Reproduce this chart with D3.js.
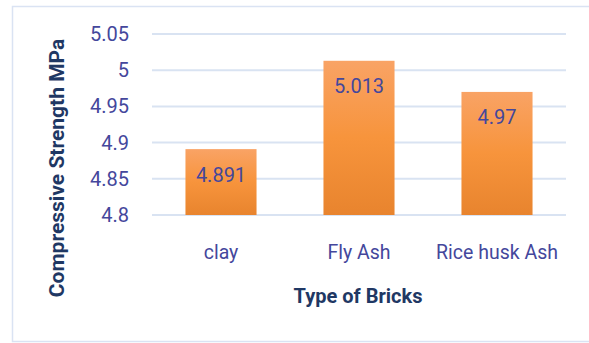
<!DOCTYPE html>
<html>
<head>
<meta charset="utf-8">
<script src="https://cdn.jsdelivr.net/npm/d3@7"></script>
<style>
    body { margin: 0; background: #fff; }
    svg { display: block; }
    .axis text { font-family: Roboto, sans-serif; fill: #44479c; }
    .axis-title { font-family: Roboto, sans-serif; font-weight: bold; fill: #1f3864; }
</style>
</head>
<body>
<div id="chart"></div>
<script>
// chart data
let categories = ["clay", "Fly Ash", "Rice husk Ash"];
let strength = [4.891, 5.013, 4.97];
let yTicks = [4.8, 4.85, 4.9, 4.95, 5, 5.05];

let margin = { top: 34, right: 23, bottom: 128, left: 152 };
let fullWidth = 589, fullHeight = 343;
let width = fullWidth - margin.left - margin.right;
let height = fullHeight - margin.top - margin.bottom;

let svg = d3.select("#chart").append("svg")
    .attr("width", fullWidth)
    .attr("height", fullHeight);

// outer frame (right edge runs off the picture)
svg.append("rect")
    .attr("x", 12.5)
    .attr("y", 6.5)
    .attr("width", 600)
    .attr("height", 335)
    .attr("fill", "none")
    .attr("stroke", "#dae3f3")
    .attr("stroke-width", 1.5);

let defs = svg.append("defs");
let grad = defs.append("linearGradient")
    .attr("id", "barGrad")
    .attr("x1", 0).attr("y1", 0).attr("x2", 0).attr("y2", 1);
grad.append("stop").attr("offset", "0%").attr("stop-color", "#f9a365");
grad.append("stop").attr("offset", "50%").attr("stop-color", "#f7943c");
grad.append("stop").attr("offset", "100%").attr("stop-color", "#e8842e");

let g = svg.append("g")
    .attr("transform", "translate(" + margin.left + "," + margin.top + ")");

let x = d3.scaleBand()
    .domain(categories)
    .range([0, width])
    .paddingInner(0.485)
    .paddingOuter(0.2425);

let y = d3.scaleLinear()
    .domain([4.8, 5.05])
    .range([height, 0]);

// gridlines
g.selectAll(".grid")
    .data(yTicks)
    .enter().append("line")
    .attr("class", "grid")
    .attr("x1", 0)
    .attr("x2", width)
    .attr("y1", d => y(d))
    .attr("y2", d => y(d))
    .attr("stroke", "#d9e3f2")
    .attr("stroke-width", 2);

// bars
g.selectAll(".bar")
    .data(strength)
    .enter().append("rect")
    .attr("class", "bar")
    .attr("x", (d, i) => x(categories[i]))
    .attr("y", d => y(d))
    .attr("width", x.bandwidth())
    .attr("height", d => height - y(d))
    .attr("fill", "url(#barGrad)");

// value labels
g.selectAll(".value")
    .data(strength)
    .enter().append("text")
    .attr("class", "value")
    .attr("x", (d, i) => x(categories[i]) + x.bandwidth() / 2)
    .attr("y", d => y(d) + 32.5)
    .attr("text-anchor", "middle")
    .style("font-family", "Roboto, sans-serif")
    .style("font-size", "20px")
    .style("fill", "#44479c")
    .text(d => d);

// y axis
let yAxis = d3.axisLeft(y)
    .tickValues(yTicks)
    .tickSize(0)
    .tickPadding(23)
    .tickFormat(d3.format(""));

g.append("g")
    .attr("class", "axis")
    .call(yAxis)
    .call(a => a.select(".domain").remove())
    .selectAll("text")
    .style("font-size", "20px");

// x axis
let xAxis = d3.axisBottom(x)
    .tickSize(0)
    .tickPadding(30);

g.append("g")
    .attr("class", "axis")
    .attr("transform", "translate(0," + height + ")")
    .call(xAxis)
    .call(a => a.select(".domain").remove())
    .selectAll("text")
    .style("font-size", "19.5px");

// axis titles
svg.append("text")
    .attr("class", "axis-title")
    .attr("x", 358)
    .attr("y", 303)
    .attr("text-anchor", "middle")
    .style("font-size", "20px")
    .text("Type of Bricks");

svg.append("text")
    .attr("class", "axis-title")
    .attr("transform", "translate(64,168) rotate(-90)")
    .attr("text-anchor", "middle")
    .style("font-size", "21px")
    .text("Compressive Strength MPa");
</script>
</body>
</html>
